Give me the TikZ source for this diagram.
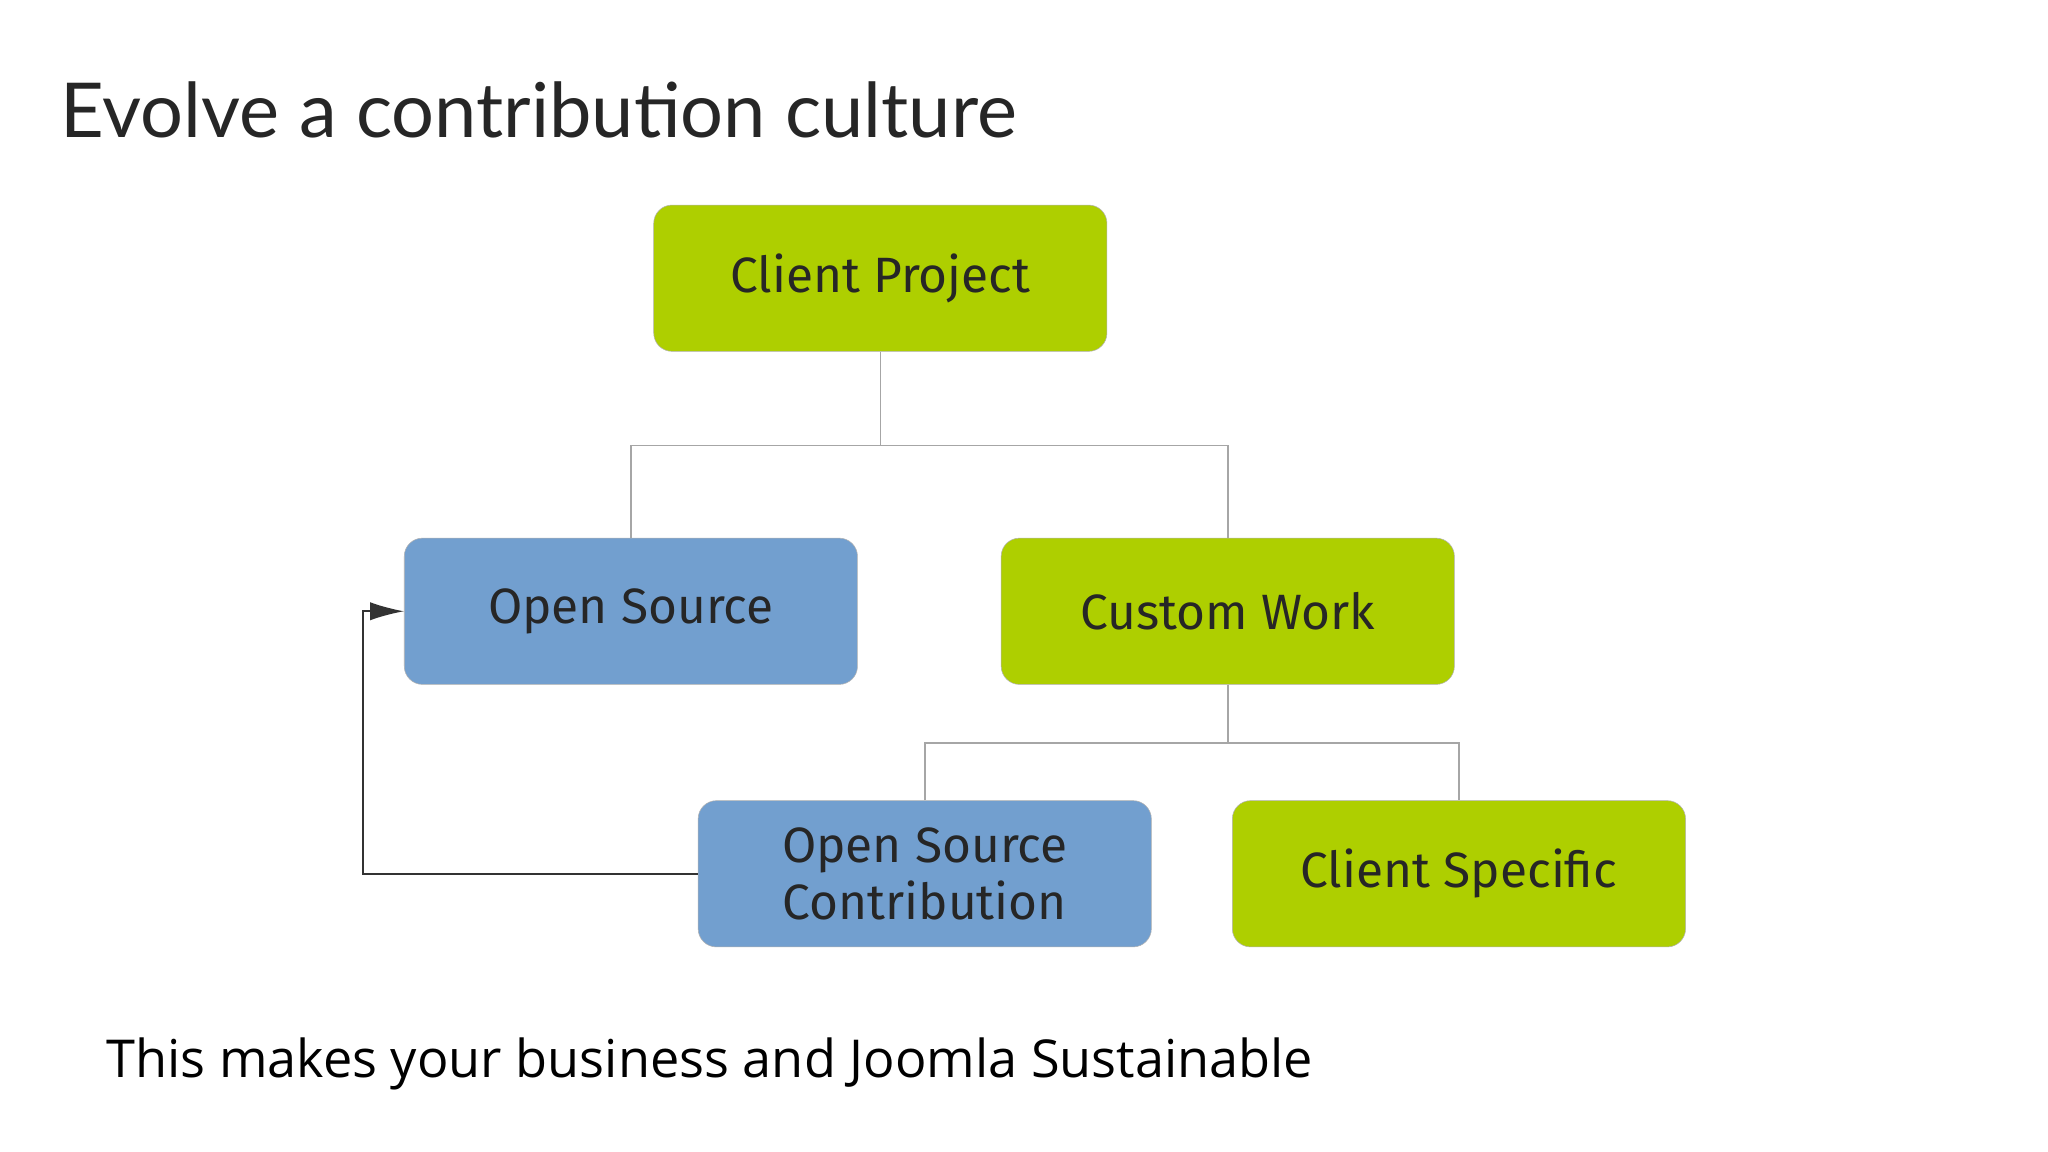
\documentclass[tikz,border=0pt]{standalone}
\usepackage{fontspec}
\setmainfont{Open Sans}
\newfontfamily\titlefont{Lato}
\newfontfamily\boxfont{Fira Sans}
\usetikzlibrary{arrows.meta}
\definecolor{lime}{HTML}{AECF00}
\definecolor{sky}{HTML}{729FCF}
\begin{document}
\begin{tikzpicture}[x=1pt,y=-1pt,
  box/.style={draw=gray!60,rounded corners=14pt,minimum width=347pt,minimum height=112pt,
    inner sep=0pt,font=\boxfont\fontsize{38}{44}\selectfont,text=black!85,align=center},
  gbox/.style={box,fill=lime},
  bbox/.style={box,fill=sky},
  conn/.style={draw=gray!70,line width=1.2pt}]
\useasboundingbox (0,0) rectangle (1568,882);
\fill[white] (0,0) rectangle (1568,882);
\node[anchor=base west,font=\titlefont\fontsize{58}{64}\selectfont,text=black!85] (title) at (43,105) {Evolve a contribution culture};
\node[gbox] (cp) at (674,213) {Client Project};
\node[bbox] (os) at (483,468) {Open Source};
\node[gbox] (cw) at (940,468) {Custom Work};
\node[bbox] (osc) at (708,669) {Open Source\\Contribution};
\node[gbox] (cs) at (1117,669) {Client Specific};
\coordinate (j1) at (674,341);
\coordinate (j2) at (940,569);
\draw[conn] (cp.south) -- (j1);
\draw[conn] (os.north) |- (j1) -| (cw.north);
\draw[conn] (cw.south) -- (j2);
\draw[conn] (osc.north) |- (j2) -| (cs.north);
\coordinate (k) at (278,669);
\draw[conn,draw=black!80,-{Latex[length=26pt,width=14pt]}] (osc.west) -- (k) |- (os.west);
\node[anchor=base west,font=\fontsize{40}{46}\selectfont,text=black] (sub) at (78,825) {This makes your business and Joomla Sustainable};
\end{tikzpicture}
\end{document}
